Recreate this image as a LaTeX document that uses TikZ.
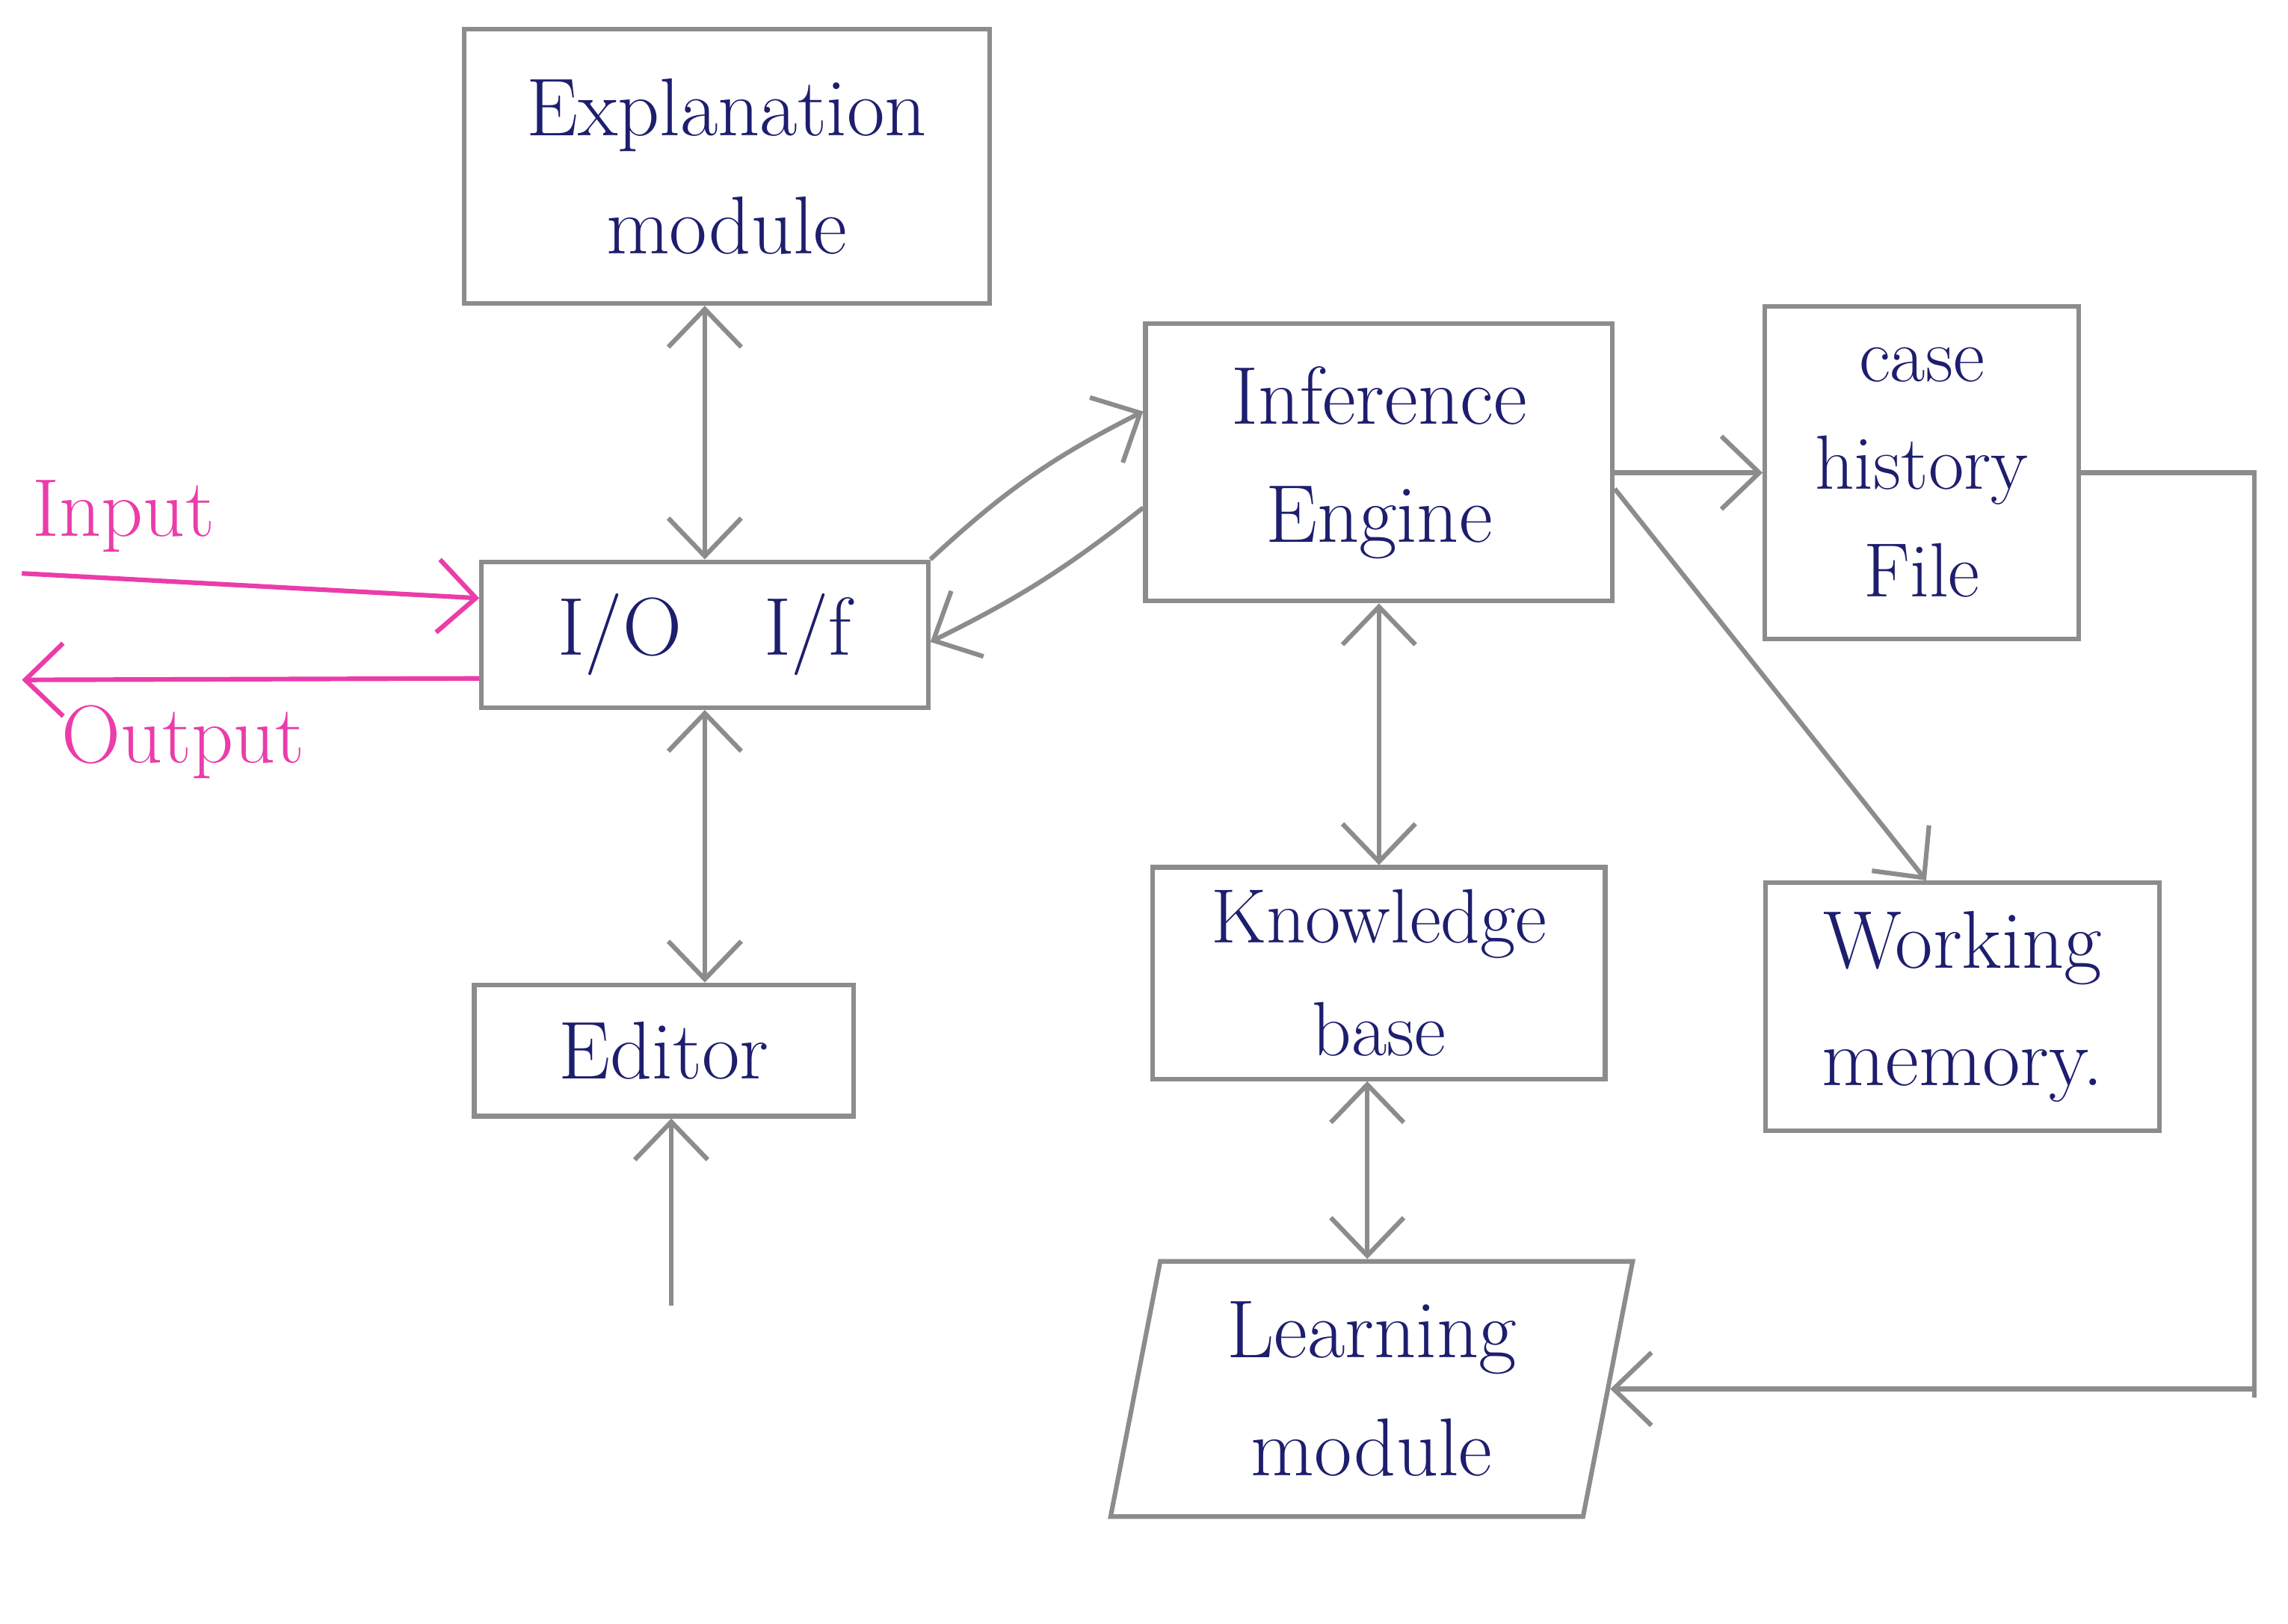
\documentclass[tikz,border=0pt]{standalone}
\usetikzlibrary{arrows.meta,shapes.geometric}
\definecolor{pencil}{RGB}{140,140,140}
\definecolor{ink}{RGB}{30,30,110}
\definecolor{pink}{RGB}{235,60,170}

\begin{document}
\begin{tikzpicture}[
	box/.style={draw=pencil,line width=0.9pt,align=center,text=ink,font=\fontsize{16}{23}\selectfont,inner sep=0pt},
	arr/.style={draw=pencil,line width=0.9pt,-{Straight Barb[length=2.6mm,width=5mm]}},
	dbl/.style={arr,{Straight Barb[length=2.6mm,width=5mm]}-{Straight Barb[length=2.6mm,width=5mm]}},
	io/.style={draw=pink,line width=0.9pt,-{Straight Barb[length=2.6mm,width=5mm]}}]
	\useasboundingbox (0,0) rectangle (15.68,11.13);
	% boxes
	\node[box,minimum width=3.6cm,minimum height=1.88cm] (expl) at (4.98,9.99) {Explanation\\module};
	\node[box,minimum width=3.06cm,minimum height=1.0cm] (iof) at (4.83,6.78) {I/O\quad I/f};
	\node[box,minimum width=2.6cm,minimum height=0.9cm] (editor) at (4.55,3.93) {Editor};
	\node[box,minimum width=3.2cm,minimum height=1.9cm] (infer) at (9.45,7.96) {Inference\\Engine};
	\node[box,font=\fontsize{15}{21}\selectfont,minimum width=2.15cm,minimum height=2.28cm] (casefile) at (13.17,7.89) {case\\history\\File};
	\node[box,font=\fontsize{15}{22}\selectfont,minimum width=3.1cm,minimum height=1.45cm] (kb) at (9.45,4.46) {Knowledge\\base};
	\node[box,minimum width=2.7cm,minimum height=1.7cm] (wm) at (13.45,4.23) {Working\\memory.};
	\node[box,trapezium,trapezium left angle=79,trapezium right angle=101,minimum width=3.1cm,minimum height=1.75cm] (learn) at (9.40,1.61) {Learning\\module};
	% input and output
	\coordinate (inp) at (0.15,7.20);
	\coordinate (outp) at (0.15,6.47);
	\draw[io] (inp) -- ([yshift=0.25cm]iof.west);
	\draw[io] ([yshift=-0.3cm]iof.west) -- (outp);
	\node[text=pink,font=\fontsize{16}{20}\selectfont,anchor=south west] (inlab) at (0.1,7.22) {Input};
	\node[text=pink,font=\fontsize{16}{20}\selectfont,anchor=north west] (outlab) at (0.3,6.42) {Output};
	% connectors
	\draw[dbl] (iof.north) -- (expl.south -| iof.north);
	\draw[dbl] (iof.south) -- (iof.south |- editor.north);
	\coordinate (edin) at (4.60,2.18);
	\draw[arr] (edin) -- (edin |- editor.south);
	\draw[arr] (iof.north east) to[bend left=8] ([yshift=0.35cm]infer.west);
	\draw[arr] ([yshift=-0.31cm]infer.west) to[bend left=6] ([yshift=-0.05cm]iof.east);
	\draw[dbl] (infer.south) -- (kb.north);
	\draw[dbl] ([xshift=-0.08cm]kb.south) -- ([xshift=-0.08cm]kb.south |- learn.north);
	\draw[arr] (infer.east |- casefile.west) -- (casefile.west);
	\draw[arr] ([yshift=-0.18cm]infer.east) -- ([xshift=-0.25cm]wm.north);
	\coordinate (fbk) at (15.45,1.55);
	\draw[arr] (casefile.east) -| (fbk) |- (learn.east);
\end{tikzpicture}
\end{document}
